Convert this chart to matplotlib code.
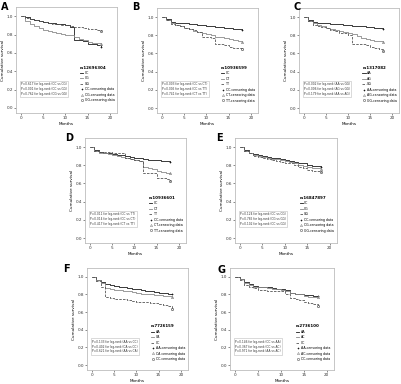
import matplotlib.pyplot as plt
from matplotlib.lines import Line2D

# months (shared time grid for all curves)
months = [0, 1, 2, 3, 4, 5, 6, 7, 8, 9, 10, 11, 12, 13, 14, 15, 16, 17, 18]

# A  rs12696304
a_cc = [1.0, .99, .97, .96, .95, .94, .93, .93, .92, .91, .90, .88, .74, .74, .73, .70, .70, .69, .66]
a_cg = [1.0, .95, .91, .89, .87, .85, .84, .83, .82, .81, .80, .79, .77, .75, .74, .72, .71, .71, .70]
a_gg = [1.0, .98, .97, .96, .95, .94, .93, .92, .91, .90, .90, .89, .88, .88, .87, .86, .86, .85, .84]
# B  rs10936599
b_cc = [1.0, .98, .95, .94, .93, .93, .92, .92, .91, .91, .90, .90, .89, .89, .88, .88, .87, .87, .86]
b_ct = [1.0, .97, .94, .91, .90, .88, .87, .85, .84, .83, .81, .80, .78, .78, .77, .76, .75, .74, .73]
b_tt = [1.0, .97, .92, .91, .90, .88, .87, .86, .84, .78, .78, .77, .70, .70, .69, .67, .66, .66, .645]
# C  rs1317082
c_aa = [1.0, .97, .95, .94, .93, .93, .92, .92, .92, .91, .91, .90, .90, .90, .89, .89, .88, .88, .87]
c_ag = [1.0, .96, .93, .91, .90, .88, .87, .86, .85, .84, .83, .81, .79, .77, .76, .75, .74, .74, .73]
c_gg = [1.0, .96, .91, .90, .89, .88, .86, .85, .83, .82, .80, .70, .70, .70, .69, .67, .66, .65, .63]
# D  rs10936601
d_cc = [1.0, .97, .95, .94, .93, .92, .91, .91, .90, .89, .88, .88, .87, .86, .86, .86, .85, .85, .84]
d_ct = [1.0, .96, .94, .93, .92, .91, .90, .89, .88, .87, .86, .85, .78, .77, .76, .74, .73, .72, .72]
d_tt = [1.0, .96, .95, .95, .95, .94, .94, .94, .88, .87, .86, .85, .72, .72, .71, .66, .66, .65, .63]
# E  rs16847897
e_cc = [1.0, .97, .94, .92, .91, .90, .89, .88, .88, .87, .86, .85, .84, .83, .82, .80, .79, .79, .78]
e_cg = [1.0, .96, .93, .91, .90, .89, .88, .87, .87, .86, .85, .84, .83, .80, .79, .78, .77, .77, .76]
e_gg = [1.0, .96, .93, .90, .89, .88, .87, .86, .85, .84, .83, .82, .80, .78, .77, .75, .74, .74, .73]
# F  rs7726159
f_aa = [1.0, .96, .94, .92, .91, .90, .89, .88, .87, .86, .86, .85, .84, .84, .83, .82, .82, .81, .80]
f_ca = [1.0, .96, .93, .87, .86, .85, .85, .84, .84, .83, .82, .81, .80, .80, .79, .79, .78, .78, .77]
f_cc = [1.0, .95, .88, .77, .76, .75, .75, .75, .74, .73, .72, .72, .71, .70, .70, .69, .68, .67, .64]
# G  rs2736100
g_aa = [1.0, .97, .94, .92, .90, .89, .88, .88, .87, .86, .86, .85, .82, .81, .80, .79, .79, .78, .78]
g_ac = [1.0, .97, .93, .91, .89, .88, .88, .87, .86, .86, .85, .84, .82, .81, .80, .78, .77, .77, .77]
g_cc = [1.0, .96, .91, .88, .87, .85, .85, .84, .84, .84, .84, .80, .76, .75, .74, .72, .70, .69, .67]

panels = [
    ('A', 'rs12696304', ['CC', 'CG', 'GG'], [a_cc, a_cg, a_gg],
     ['P=0.617 for log-rank (CC vs CG)', 'P=0.001 for log-rank (CC vs GG)', 'P=0.762 for log-rank (CG vs GG)']),
    ('B', 'rs10936599', ['CC', 'CT', 'TT'], [b_cc, b_ct, b_tt],
     ['P=0.003 for log-rank (CC vs CT)', 'P=0.005 for log-rank (CC vs TT)', 'P=0.741 for log-rank (CT vs TT)']),
    ('C', 'rs1317082', ['AA', 'AG', 'GG'], [c_aa, c_ag, c_gg],
     ['P=0.002 for log-rank (AA vs GG)', 'P=0.006 for log-rank (AG vs GG)', 'P=0.179 for log-rank (AA vs AG)']),
    ('D', 'rs10936601', ['CC', 'CT', 'TT'], [d_cc, d_ct, d_tt],
     ['P=0.011 for log-rank (CC vs TT)', 'P=0.014 for log-rank (CC vs CT)', 'P=0.417 for log-rank (CT vs TT)']),
    ('E', 'rs16847897', ['CC', 'CG', 'GG'], [e_cc, e_cg, e_gg],
     ['P=0.124 for log-rank (CC vs CG)', 'P=0.785 for log-rank (CG vs GG)', 'P=0.102 for log-rank (CC vs GG)']),
    ('F', 'rs7726159', ['AA', 'CA', 'CC'], [f_aa, f_ca, f_cc],
     ['P=0.133 for log-rank (AA vs CC)', 'P=0.402 for log-rank (CA vs CC)', 'P=0.621 for log-rank (AA vs CA)']),
    ('G', 'rs2736100', ['AA', 'AC', 'CC'], [g_aa, g_ac, g_cc],
     ['P=0.146 for log-rank (CC vs AA)', 'P=0.367 for log-rank (CC vs AC)', 'P=0.971 for log-rank (AA vs AC)']),
]

W, H = 401, 384
# axes frames in pixels: left, top, right, bottom
frames = [(16, 7, 117, 113), (157, 8, 258, 113), (299, 8, 399, 113),
          (85, 138, 186, 243), (235, 138, 337, 243),
          (87, 268, 188, 370), (230, 268, 334, 370)]
label_pos = [(1, 2), (132, 2), (293, 2), (65, 133), (216, 133), (63, 264), (217, 265)]

colors = ['#1a1a1a', '#8a8a8a', '#555555']
styles = ['-', '-', (0, (3, 1.5))]
censor = ['+', '^', 'o']

fig = plt.figure(figsize=(W / 100, H / 100), dpi=100)

for (letter, snp, genos, curves, ptxt), (l, t, r, b), (lx, ly) in zip(panels, frames, label_pos):
    ax = fig.add_axes([l / W, 1 - b / H, (r - l) / W, (b - t) / H])
    handles = []
    cens = []
    for i, (g, s) in enumerate(zip(genos, curves)):
        ax.step(months, s, where='post', color=colors[i], ls=styles[i], lw=0.6)
        ax.plot(months[-1], s[-1], marker=censor[i], color=colors[i], ms=1.6, mew=0.5,
                mfc='none', ls='none')
        handles.append(Line2D([], [], color=colors[i], ls=styles[i], lw=0.6))
        cens.append(Line2D([], [], color=colors[i], marker=censor[i], ms=1.6, mew=0.4,
                           mfc='none', ls='none'))
    ax.set_xlim(-1.1, 21.6)
    ax.set_ylim(-0.055, 1.1)
    ax.set_xticks([0, 5, 10, 15, 20])
    ax.set_yticks([0.0, 0.2, 0.4, 0.6, 0.8, 1.0])
    ax.set_yticklabels(['%.1f' % v for v in [0.0, 0.2, 0.4, 0.6, 0.8, 1.0]])
    ax.tick_params(labelsize=3.0, length=1.5, width=0.4, pad=0.8, colors='#333333')
    for sp in ax.spines.values():
        sp.set_color('#bdbdbd')
        sp.set_linewidth(0.6)
    ax.set_xlabel('Months', fontsize=3.0, labelpad=1.0)
    ax.set_ylabel('Cumulative survival', fontsize=3.0, labelpad=0.8)

    labels = genos + [g + '-censoring data' for g in genos]
    leg = ax.legend(handles + cens, labels, title=snp, loc='upper left',
                    bbox_to_anchor=(0.62, 0.46), fontsize=2.3, title_fontsize=2.9,
                    frameon=False, handlelength=1.1, handletextpad=0.4,
                    labelspacing=0.45, borderpad=0.2, borderaxespad=0.2)
    leg.get_title().set_fontweight('bold')
    leg._legend_box.align = 'left'

    ax.text(0.05, 0.23, '\n'.join(ptxt), transform=ax.transAxes, fontsize=2.1,
            va='center', ha='left', color='#333333', linespacing=1.3,
            bbox=dict(boxstyle='square,pad=0.4', fc='none', ec='#bdbdbd', lw=0.4))

    fig.text(lx / W, 1 - ly / H, letter, fontsize=7, fontweight='bold',
             ha='left', va='top')

fig.savefig('out.png', dpi=100)
